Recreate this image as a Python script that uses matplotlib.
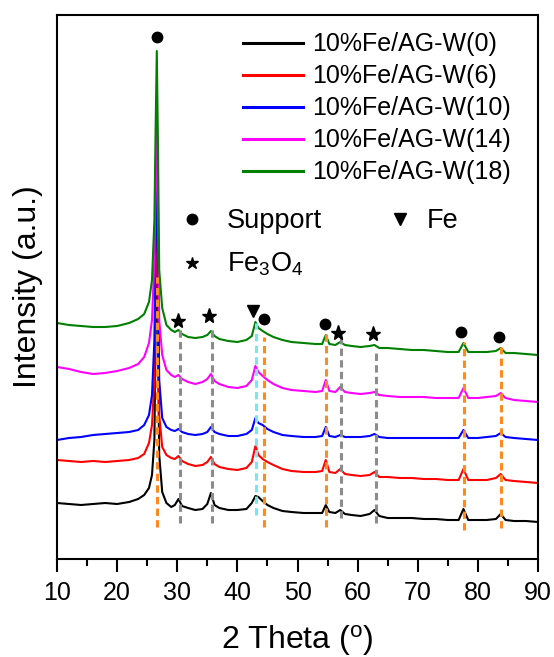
import numpy as np
import matplotlib
matplotlib.use("Agg")
import matplotlib.pyplot as plt
from matplotlib.ticker import MultipleLocator

plt.rcParams['font.family'] = ['Liberation Sans', 'DejaVu Sans']
plt.rcParams['mathtext.fontset'] = 'custom'
plt.rcParams['mathtext.rm'] = 'Liberation Sans'
plt.rcParams['mathtext.it'] = 'Liberation Sans'

# 2 theta (graus)
two_theta = [10, 12, 14, 16, 18, 20, 22, 23.5, 24.5, 25.3, 25.8, 26.2, 26.4, 26.6, 26.8,
             27.0, 27.5, 28.2, 29.0, 29.6, 30.2, 30.8, 31.8, 33.0, 34.2, 35.0, 35.6,
             36.2, 37.0, 38.5, 40.0, 41.5, 42.4, 43.0, 43.5, 44.2, 45.0, 46.0, 47.5,
             49.0, 51.0, 53.0, 54.1, 54.7, 55.3, 56.3, 57.1, 57.9, 59.0, 60.5, 62.0,
             62.8, 63.6, 65.0, 67.0, 69.0, 71.0, 73.0, 75.0, 76.8, 77.6, 78.4, 80.0,
             81.5, 83.0, 83.8, 84.6, 86.0, 88.0, 90.0]

# intensidades (u.a.), ja com o deslocamento vertical de cada amostra
w0 = [53, 52, 51, 52, 53, 52, 54, 57, 61, 68, 81, 116, 226, 376, 206,
      101, 64, 53, 49, 51, 57, 50, 48, 46, 47, 52, 63,
      51, 48, 46, 46, 47, 53, 60, 59, 55, 51, 48, 45,
      44, 43, 43, 43, 51, 44, 43, 46, 42, 41, 40, 42,
      46, 40, 38, 38, 38, 37, 37, 36, 36, 47, 36, 36,
      36, 37, 42, 36, 35, 35, 34]
w6 = [96, 95, 94, 95, 94, 95, 96, 98, 102, 113, 131, 176, 276, 406, 256,
      141, 109, 101, 98, 97, 100, 95, 92, 90, 91, 94, 99,
      92, 89, 87, 86, 88, 94, 110, 101, 97, 94, 91, 87,
      85, 84, 84, 85, 96, 84, 83, 87, 82, 81, 80, 81,
      84, 79, 79, 78, 78, 77, 77, 76, 76, 87, 76, 76,
      76, 78, 82, 76, 75, 74, 73]
w10 = [116, 118, 119, 121, 122, 123, 124, 126, 131, 141, 161, 216, 316, 436, 296,
       176, 138, 129, 126, 125, 127, 124, 122, 121, 122, 124, 129,
       124, 122, 120, 120, 122, 126, 138, 133, 131, 127, 124, 121,
       120, 119, 119, 120, 129, 120, 119, 121, 119, 119, 119, 120,
       122, 119, 118, 118, 118, 118, 118, 118, 118, 126, 118, 118,
       119, 120, 123, 119, 118, 117, 116]
w14 = [189, 187, 184, 182, 183, 185, 188, 192, 199, 213, 236, 296, 366, 456, 346,
       236, 201, 186, 181, 179, 181, 177, 174, 172, 174, 177, 182,
       175, 172, 169, 168, 170, 176, 190, 184, 180, 176, 172, 168,
       166, 165, 164, 165, 176, 165, 164, 169, 164, 163, 162, 163,
       164, 161, 160, 159, 159, 159, 158, 158, 158, 168, 158, 158,
       159, 160, 163, 158, 156, 155, 154]
w18 = [233, 231, 230, 229, 229, 230, 233, 237, 242, 254, 276, 336, 426, 505, 406,
       286, 248, 231, 226, 224, 226, 222, 219, 218, 219, 221, 225,
       220, 217, 215, 214, 216, 220, 234, 228, 225, 222, 219, 216,
       214, 213, 212, 212, 221, 212, 211, 214, 211, 210, 209, 210,
       211, 208, 208, 207, 206, 206, 205, 204, 204, 213, 204, 204,
       204, 205, 208, 203, 203, 202, 201]

amostras = ['10%Fe/AG-W(0)', '10%Fe/AG-W(6)', '10%Fe/AG-W(10)',
            '10%Fe/AG-W(14)', '10%Fe/AG-W(18)']
cores = ['black', '#FF0000', '#0000FF', '#FF00FF', '#008000']

# posicoes dos picos identificados (fase, 2theta, altura do simbolo)
fases = ['support', 'fe3o4', 'fe3o4', 'fe', 'support', 'support', 'fe3o4', 'fe3o4', 'support', 'support']
picos_2t = [26.6, 30.1, 35.3, 42.6, 44.4, 54.6, 56.8, 62.6, 77.2, 83.5]
picos_h = [519, 235, 240, 245, 237, 232, 223, 222, 224, 219]

# linhas tracejadas de referencia
ref_2t = [26.6, 30.4, 35.7, 43.1, 44.4, 54.8, 57.2, 63.0, 77.7, 83.9]
ref_fase = ['support', 'fe3o4', 'fe3o4', 'fe', 'support', 'support', 'fe3o4', 'fe3o4', 'support', 'support']
ref_topo = [279, 226, 228, 233, 219, 224, 219, 206, 214, 209]
ref_base = [29, 33, 33, 41, 29, 29, 38, 33, 26, 28]

cor_ref = {'support': '#FF8C1A', 'fe3o4': '#8C8C8C', 'fe': '#80E5EA'}
marcador = {'support': ('o', 7.5), 'fe3o4': ('*', 11), 'fe': ('v', 8)}

fig = plt.figure(figsize=(5.54, 6.57), dpi=100)
ax = fig.add_axes([57/554, 1 - 559/657, 481/554, 544/657])

linhas = []
for y, cor, nome in zip([w0, w6, w10, w14, w18], cores, amostras):
    l, = ax.plot(two_theta, y, color=cor, lw=1.5, label=nome, zorder=2)
    linhas.append(l)

for x, f, y1, y0 in zip(ref_2t, ref_fase, ref_topo, ref_base):
    ax.plot([x, x], [y0, y1], color=cor_ref[f], lw=2.2, dashes=(2.4, 1.4), zorder=3)

for f, x, y in zip(fases, picos_2t, picos_h):
    m, ms = marcador[f]
    ax.plot(x, y, marker=m, ms=ms, color='black', ls='none', zorder=4)

# legenda das fases dentro do grafico
ax.plot(32.45, 337, marker='o', ms=7.5, color='black', ls='none')
ax.text(38.3, 328, 'Support', fontsize=19.5, va='baseline')
ax.plot(67.05, 337, marker='v', ms=8, color='black', ls='none')
ax.text(71.5, 328, 'Fe', fontsize=19.5, va='baseline')
ax.plot(32.45, 293, marker='*', ms=9, color='black', ls='none')
ax.text(38.3, 285, 'Fe$_3$O$_4$', fontsize=19.5, va='baseline')

leg = ax.legend(handles=linhas, loc='upper left', bbox_to_anchor=(0.387, 0.968),
                frameon=False, fontsize=18, handlelength=2.4, handletextpad=0.35,
                labelspacing=0.32, borderpad=0, borderaxespad=0)
for h in leg.legend_handles:
    h.set_linewidth(2.2)

ax.set_xlim(10, 90)
ax.set_ylim(-3, 541)
ax.xaxis.set_major_locator(MultipleLocator(10))
ax.xaxis.set_minor_locator(MultipleLocator(5))
ax.tick_params(axis='x', which='major', direction='out', length=9, width=1.5,
               labelsize=18, pad=7)
ax.tick_params(axis='x', which='minor', direction='out', length=5, width=1.5)
ax.set_yticks([])
for s in ax.spines.values():
    s.set_linewidth(1.5)

ax.set_xlabel('2 Theta ($^{\\rm o}$)', fontsize=23)
ax.set_ylabel('Intensity (a.u.)', fontsize=23)
ax.xaxis.set_label_coords(0.5, -0.118)
ax.yaxis.set_label_coords(-0.03, 0.5)

fig.savefig('out.png', dpi=100)
